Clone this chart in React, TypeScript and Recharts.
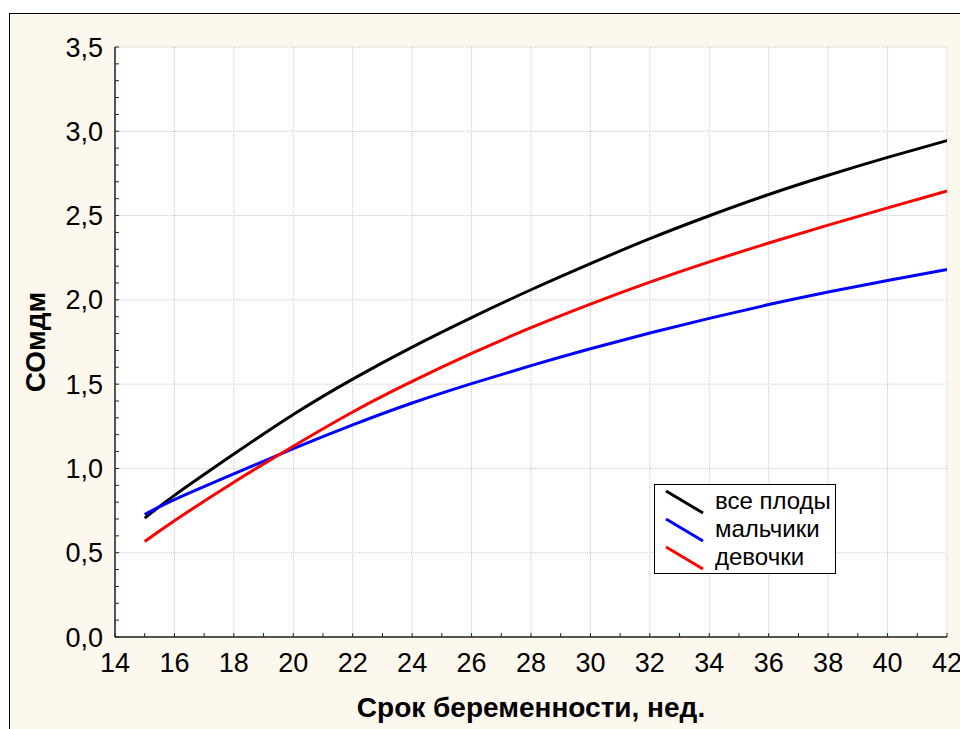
import { LineChart, Line, XAxis, YAxis, CartesianGrid, Legend } from 'recharts';

const weeks = [15, 16, 18, 20, 22, 24, 26, 28, 30, 32, 34, 36, 38, 40, 42];
const allFetuses = [0.705, 0.84, 1.085, 1.32, 1.53, 1.72, 1.895, 2.06, 2.215, 2.363, 2.499, 2.625, 2.739, 2.845, 2.945];
const boys = [0.727, 0.815, 0.968, 1.117, 1.258, 1.388, 1.503, 1.61, 1.71, 1.803, 1.89, 1.972, 2.047, 2.115, 2.18];
const girls = [0.567, 0.69, 0.918, 1.132, 1.335, 1.516, 1.682, 1.835, 1.975, 2.105, 2.225, 2.337, 2.443, 2.546, 2.646];

const xMajor = [14, 16, 18, 20, 22, 24, 26, 28, 30, 32, 34, 36, 38, 40, 42];
const xMinor = [14, 15, 16, 17, 18, 19, 20, 21, 22, 23, 24, 25, 26, 27, 28, 29, 30, 31, 32, 33, 34, 35, 36, 37, 38, 39, 40, 41, 42];
const yMajor = [0, 0.5, 1, 1.5, 2, 2.5, 3, 3.5];
const yMinor = [
  0, 0.1, 0.2, 0.3, 0.4, 0.5, 0.6, 0.7, 0.8, 0.9, 1, 1.1, 1.2, 1.3, 1.4, 1.5, 1.6, 1.7,
  1.8, 1.9, 2, 2.1, 2.2, 2.3, 2.4, 2.5, 2.6, 2.7, 2.8, 2.9, 3, 3.1, 3.2, 3.3, 3.4, 3.5,
];

const seriesNames = ['все плоды', 'мальчики', 'девочки'];
const seriesColors = ['#000000', '#0000ff', '#ff0000'];

const data = weeks.map((w, i) => ({ week: w, all: allFetuses[i], boys: boys[i], girls: girls[i] }));

const FONT = '"Liberation Sans", Arial, sans-serif';

const isMajorY = (v: number) => yMajor.some((m) => Math.abs(m - v) < 1e-6);
const isMajorX = (v: number) => xMajor.includes(v);

function LegendBox() {
  return (
    <div
      style={{
        width: 182,
        height: 90,
        border: '1px solid #000',
        background: '#fff',
        fontFamily: FONT,
        fontSize: 24,
        color: '#000',
        paddingTop: 2,
        boxSizing: 'border-box',
      }}
    >
      {seriesNames.map((name, i) => (
        <div key={name} style={{ display: 'flex', alignItems: 'center', height: 28 }}>
          <svg width={60} height={28} style={{ flex: 'none' }}>
            <line x1={11} y1={4} x2={48} y2={26} stroke={seriesColors[i]} strokeWidth={3} />
          </svg>
          <span style={{ lineHeight: '28px' }}>{name}</span>
        </div>
      ))}
    </div>
  );
}

export default function App() {
  return (
    <div style={{ position: 'absolute', left: 0, top: 0, width: 960, height: 729, overflow: 'hidden', background: '#fff' }}>
      <div
        style={{
          position: 'absolute',
          left: 9,
          top: 13,
          width: 960,
          height: 729,
          borderLeft: '1.5px solid #000',
          borderTop: '1.5px solid #000',
          background: '#fdf8ee',
        }}
      />
      <div style={{ position: 'absolute', left: 0, top: 0 }}>
        <LineChart width={960} height={729} data={data} margin={{ top: 47, right: 13, bottom: 0, left: 0 }}>
          <CartesianGrid
            xAxisId="b"
            yAxisId="l"
            fill="#ffffff"
            fillOpacity={1}
            stroke="#c8c8c8"
            strokeDasharray="1 1"
            verticalValues={xMajor}
            horizontalValues={yMajor}
          />
          <XAxis
            xAxisId="b"
            dataKey="week"
            type="number"
            domain={[14, 42]}
            allowDataOverflow
            ticks={xMinor}
            interval={0}
            height={92}
            tickSize={-4}
            tickMargin={20}
            tickFormatter={(v: number) => (isMajorX(v) ? String(v) : '')}
            tick={{ fill: '#000', fontSize: 27, fontFamily: FONT }}
            axisLine={{ stroke: '#222', strokeWidth: 1.5 }}
            tickLine={{ stroke: '#222', strokeWidth: 1 }}
            label={({ viewBox }: any) => (
              <text
                x={viewBox.x + viewBox.width / 2}
                y={viewBox.y + 80}
                textAnchor="middle"
                fontFamily={FONT}
                fontSize={28}
                fontWeight="bold"
                fill="#000"
              >
                Срок беременности, нед.
              </text>
            )}
          />
          <XAxis
            xAxisId="t"
            orientation="top"
            type="number"
            domain={[14, 42]}
            allowDataOverflow
            ticks={xMinor}
            interval={0}
            height={0}
            tickSize={-4}
            tick={false}
            axisLine={{ stroke: '#222', strokeWidth: 1.5 }}
            tickLine={{ stroke: '#222', strokeWidth: 1 }}
          />
          <YAxis
            yAxisId="l"
            type="number"
            domain={[0, 3.5]}
            allowDataOverflow
            ticks={yMinor}
            interval={0}
            width={115}
            tickSize={-4}
            tickMargin={16}
            tickFormatter={(v: number) => (isMajorY(v) ? v.toFixed(1).replace('.', ',') : '')}
            tick={{ fill: '#000', fontSize: 27, fontFamily: FONT }}
            axisLine={{ stroke: '#222', strokeWidth: 1.5 }}
            tickLine={{ stroke: '#222', strokeWidth: 1 }}
            label={({ viewBox }: any) => {
              const cx = 45;
              const cy = viewBox.y + viewBox.height / 2;
              return (
                <text
                  x={cx}
                  y={cy}
                  transform={`rotate(-90, ${cx}, ${cy})`}
                  textAnchor="middle"
                  fontFamily={FONT}
                  fontSize={28}
                  fontWeight="bold"
                  fill="#000"
                >
                  СОмдм
                </text>
              );
            }}
          />
          <YAxis
            yAxisId="r"
            orientation="right"
            type="number"
            domain={[0, 3.5]}
            allowDataOverflow
            ticks={yMinor}
            interval={0}
            width={0}
            tickSize={-4}
            tick={false}
            axisLine={{ stroke: '#222', strokeWidth: 1.5 }}
            tickLine={{ stroke: '#222', strokeWidth: 1 }}
          />
          <Legend
            layout="horizontal"
            verticalAlign="middle"
            align="center"
            content={() => <LegendBox />}
            wrapperStyle={{ position: 'absolute', left: 654, top: 484, width: 'auto' }}
          />
          <Line xAxisId="b" yAxisId="l" type="natural" dataKey="all" name={seriesNames[0]} stroke={seriesColors[0]} strokeWidth={3} dot={false} isAnimationActive={false} />
          <Line xAxisId="b" yAxisId="l" type="natural" dataKey="boys" name={seriesNames[1]} stroke={seriesColors[1]} strokeWidth={3} dot={false} isAnimationActive={false} />
          <Line xAxisId="b" yAxisId="l" type="natural" dataKey="girls" name={seriesNames[2]} stroke={seriesColors[2]} strokeWidth={3} dot={false} isAnimationActive={false} />
        </LineChart>
      </div>
    </div>
  );
}
